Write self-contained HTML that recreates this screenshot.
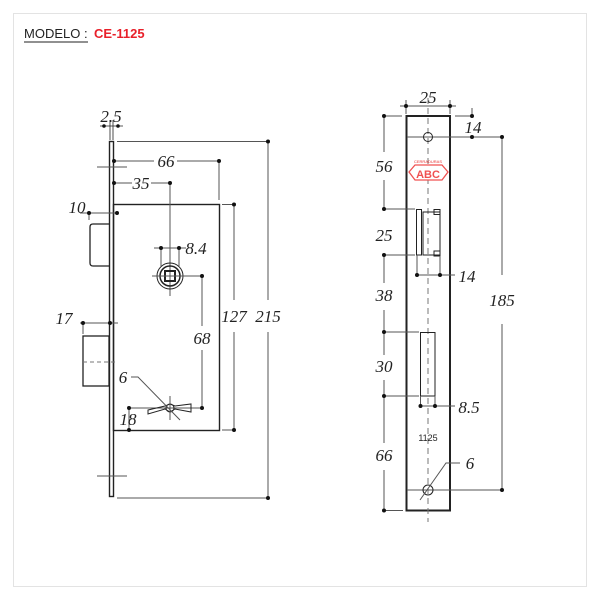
<!DOCTYPE html>
<html><head><meta charset="utf-8"><style>
html,body{margin:0;padding:0;background:#fff;}
svg{display:block;}
.t{font-family:"Liberation Serif",serif;font-style:italic;font-size:17px;fill:#222;}
</style></head><body>
<svg width="600" height="600" viewBox="0 0 600 600" xmlns="http://www.w3.org/2000/svg">
<rect x="13.5" y="13.5" width="573" height="573" fill="none" stroke="#e3e3e3" stroke-width="1"/>
<text x="24" y="38" font-family="Liberation Sans,sans-serif" font-size="13" fill="#222">MODELO :</text>
<line x1="24" y1="42" x2="88" y2="42" stroke="#222" stroke-width="1"/>
<text x="94" y="38" font-family="Liberation Sans,sans-serif" font-size="13" font-weight="bold" fill="#e8202a">CE-1125</text>

<g stroke="#222" fill="none" stroke-width="1">
<!-- LEFT VIEW -->
<rect x="109.5" y="141.5" width="4" height="355" stroke-width="1.4"/>
<rect x="113.5" y="204.5" width="106" height="226" stroke-width="1.4"/>
<path d="M109 224 H93 Q90 224 90 227 V263 Q90 266 93 266 H109" stroke-width="1.3"/>
<rect x="83" y="336" width="26" height="50" stroke-width="1.3"/>
<line x1="83" y1="362" x2="117" y2="362" stroke-dasharray="4,3" stroke="#777"/>
<line x1="97" y1="167" x2="127" y2="167" stroke="#555"/>
<line x1="97" y1="476" x2="127" y2="476" stroke="#555"/>
<!-- 2.5 -->
<line x1="100" y1="126" x2="123" y2="126" stroke-width="0.8"/>
<line x1="110" y1="120" x2="110" y2="140" stroke-width="0.8"/>
<line x1="113" y1="120" x2="113" y2="140" stroke-width="0.8"/>
<!-- 215 -->
<line x1="117" y1="141.5" x2="268" y2="141.5" stroke="#555"/>
<line x1="268" y1="141.5" x2="268" y2="300" stroke="#555"/>
<line x1="268" y1="332" x2="268" y2="498" stroke="#555"/>
<line x1="117" y1="498" x2="268" y2="498" stroke="#555"/>
<!-- 66 -->
<line x1="113" y1="161" x2="154" y2="161" stroke="#555"/>
<line x1="177" y1="161" x2="219" y2="161" stroke="#555"/>
<line x1="219" y1="161" x2="219" y2="200" stroke="#555"/>
<!-- 35 -->
<line x1="113" y1="183" x2="132" y2="183" stroke="#555"/>
<line x1="151" y1="183" x2="170" y2="183" stroke="#555"/>
<line x1="170" y1="183" x2="170" y2="296" stroke="#555"/>
<!-- 127 -->
<line x1="222" y1="204.5" x2="234" y2="204.5" stroke="#555"/>
<line x1="234" y1="204.5" x2="234" y2="300" stroke="#555"/>
<line x1="234" y1="332" x2="234" y2="430" stroke="#555"/>
<line x1="222" y1="430" x2="234" y2="430" stroke="#555"/>
<!-- 10 -->
<line x1="80" y1="213" x2="117" y2="213" stroke="#555"/>
<line x1="89" y1="213" x2="89" y2="220" stroke="#555"/>
<!-- knob -->
<circle cx="170" cy="276" r="13"/>
<circle cx="170" cy="276" r="10" stroke-width="1.5"/>
<rect x="165" y="271" width="10" height="10" stroke-width="2"/>
<line x1="152" y1="276" x2="202" y2="276" stroke="#555"/>
<!-- 8.4 -->
<line x1="154" y1="248" x2="186" y2="248" stroke="#555"/>
<line x1="161" y1="248" x2="161" y2="266" stroke="#555"/>
<line x1="179" y1="248" x2="179" y2="266" stroke="#555"/>
<!-- 68 -->
<line x1="202" y1="276" x2="202" y2="326" stroke="#555"/>
<line x1="202" y1="350" x2="202" y2="408" stroke="#555"/>
<!-- 17 -->
<line x1="80" y1="323" x2="118" y2="323" stroke="#555"/>
<line x1="83" y1="323" x2="83" y2="334" stroke="#555"/>
<!-- lever -->
<line x1="129" y1="408" x2="202" y2="408" stroke="#555"/>
<path d="M148 410 L165 406 L170 404 L175 406 L191 404 L191 412 L175 409 L170 412 L165 409 L148 414 Z" stroke-width="1"/>
<circle cx="170" cy="408" r="4"/>
<line x1="170" y1="396" x2="170" y2="420" stroke="#555"/>
<path d="M131 377 H138 L180 420" stroke="#555"/>
<line x1="129" y1="408" x2="129" y2="430" stroke="#555"/>
</g>
<g fill="#111">
<circle cx="104" cy="126" r="1.8"/><circle cx="118" cy="126" r="1.8"/>
<circle cx="268" cy="141.5" r="2"/><circle cx="268" cy="498" r="2"/>
<circle cx="114" cy="161" r="2"/><circle cx="219" cy="161" r="2"/>
<circle cx="114" cy="183" r="2"/><circle cx="170" cy="183" r="2"/>
<circle cx="234" cy="204.5" r="2"/><circle cx="234" cy="430" r="2"/>
<circle cx="89" cy="213" r="2"/><circle cx="117" cy="213" r="2"/>
<circle cx="161" cy="248" r="2"/><circle cx="179" cy="248" r="2"/>
<circle cx="202" cy="276" r="2"/><circle cx="202" cy="408" r="2"/>
<circle cx="83" cy="323" r="2"/><circle cx="110" cy="323" r="2"/>
<circle cx="129" cy="408" r="2"/><circle cx="129" cy="430" r="2"/>
</g>
<text class="t" x="111" y="122" text-anchor="middle">2.5</text>
<text class="t" x="166" y="167" text-anchor="middle">66</text>
<text class="t" x="141" y="189" text-anchor="middle">35</text>
<text class="t" x="77" y="213" text-anchor="middle">10</text>
<text class="t" x="196" y="254" text-anchor="middle">8.4</text>
<text class="t" x="234" y="322" text-anchor="middle">127</text>
<text class="t" x="268" y="322" text-anchor="middle">215</text>
<text class="t" x="202" y="344" text-anchor="middle">68</text>
<text class="t" x="64" y="324" text-anchor="middle">17</text>
<text class="t" x="123" y="383" text-anchor="middle">6</text>
<text class="t" x="128" y="425" text-anchor="middle">18</text>

<!-- RIGHT VIEW -->
<g stroke="#222" fill="none" stroke-width="1">
<rect x="406.5" y="116" width="43.5" height="394.5" stroke-width="2"/>
<line x1="428" y1="98" x2="428" y2="522" stroke="#777" stroke-dasharray="6,4"/>
<line x1="400" y1="106" x2="456" y2="106" stroke="#555"/>
<line x1="406" y1="100" x2="406" y2="114" stroke="#555"/>
<line x1="450" y1="100" x2="450" y2="114" stroke="#555"/>
<line x1="455" y1="116" x2="472" y2="116" stroke="#555"/>
<line x1="472" y1="108" x2="472" y2="116" stroke="#555"/>
<line x1="407" y1="137" x2="502" y2="137" stroke="#555"/>
<line x1="502" y1="137" x2="502" y2="275" stroke="#555"/>
<line x1="502" y1="324" x2="502" y2="490" stroke="#555"/>
<line x1="407" y1="490" x2="502" y2="490" stroke="#555"/>
<circle cx="428" cy="137" r="4.5"/>
<!-- left dims -->
<line x1="384" y1="116" x2="402" y2="116" stroke="#555"/>
<line x1="384" y1="116" x2="384" y2="152" stroke="#555"/>
<line x1="384" y1="180" x2="384" y2="209" stroke="#555"/>
<line x1="384" y1="209" x2="415" y2="209" stroke="#555"/>
<line x1="384" y1="255" x2="415" y2="255" stroke="#555"/>
<line x1="384" y1="255" x2="384" y2="283" stroke="#555"/>
<line x1="384" y1="310" x2="384" y2="355" stroke="#555"/>
<line x1="384" y1="332" x2="419" y2="332" stroke="#555"/>
<line x1="384" y1="380" x2="384" y2="443" stroke="#555"/>
<line x1="384" y1="396" x2="419" y2="396" stroke="#555"/>
<line x1="384" y1="470" x2="384" y2="510" stroke="#555"/>
<line x1="384" y1="510.5" x2="403" y2="510.5" stroke="#555"/>
<!-- bolt -->
<rect x="416.5" y="209.5" width="5" height="45.5"/>
<rect x="423" y="212" width="17" height="43"/>
<rect x="434" y="209.5" width="6" height="5"/>
<rect x="434" y="251" width="6" height="5"/>
<line x1="417" y1="255" x2="417" y2="275" stroke="#555"/>
<line x1="440" y1="256" x2="440" y2="275" stroke="#555"/>
<line x1="417" y1="275" x2="455" y2="275" stroke="#555"/>
<!-- latch slot -->
<rect x="420.5" y="332.5" width="14.5" height="63.5"/>
<line x1="420.5" y1="396" x2="420.5" y2="406" stroke="#555"/>
<line x1="435" y1="396" x2="435" y2="406" stroke="#555"/>
<line x1="420" y1="406" x2="455" y2="406" stroke="#555"/>
<!-- bottom hole -->
<circle cx="428" cy="490" r="5"/>
<path d="M420 500 L446 463 H460" stroke="#555"/>
</g>
<g fill="#111">
<circle cx="406" cy="106" r="2"/><circle cx="450" cy="106" r="2"/>
<circle cx="472" cy="116" r="2"/><circle cx="472" cy="137" r="2"/>
<circle cx="502" cy="137" r="2"/><circle cx="502" cy="490" r="2"/>
<circle cx="384" cy="116" r="2"/><circle cx="384" cy="209" r="2"/><circle cx="384" cy="255" r="2"/>
<circle cx="384" cy="332" r="2"/><circle cx="384" cy="396" r="2"/><circle cx="384" cy="510.5" r="2"/>
<circle cx="417" cy="275" r="2"/><circle cx="440" cy="275" r="2"/>
<circle cx="420.5" cy="406" r="2"/><circle cx="435" cy="406" r="2"/>
</g>
<!-- ABC logo -->
<polygon points="409,172 415,165 442,165 448,172 442,180 415,180" fill="#fff" stroke="#f05050" stroke-width="1.3"/>
<text x="428" y="163" font-family="Liberation Sans,sans-serif" font-size="4" fill="#e83030" text-anchor="middle">CERRADURAS</text>
<text x="428" y="178" font-family="Liberation Sans,sans-serif" font-size="11" font-weight="bold" fill="#f05050" text-anchor="middle">ABC</text>
<text x="428" y="441" font-family="Liberation Sans,sans-serif" font-size="9" fill="#222" text-anchor="middle">1125</text>
<text class="t" x="428" y="103" text-anchor="middle">25</text>
<text class="t" x="473" y="133" text-anchor="middle">14</text>
<text class="t" x="384" y="172" text-anchor="middle">56</text>
<text class="t" x="384" y="241" text-anchor="middle">25</text>
<text class="t" x="384" y="301" text-anchor="middle">38</text>
<text class="t" x="384" y="372" text-anchor="middle">30</text>
<text class="t" x="384" y="461" text-anchor="middle">66</text>
<text class="t" x="467" y="282" text-anchor="middle">14</text>
<text class="t" x="502" y="306" text-anchor="middle">185</text>
<text class="t" x="469" y="413" text-anchor="middle">8.5</text>
<text class="t" x="470" y="469" text-anchor="middle">6</text>
</svg>
</body></html>
